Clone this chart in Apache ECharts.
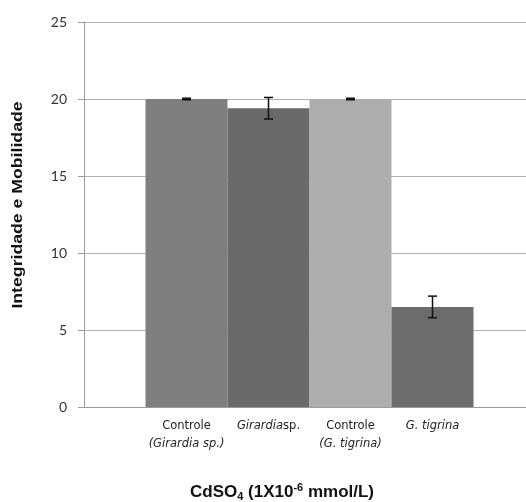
<!DOCTYPE html>
<html>
<head>
<meta charset="utf-8">
<script src="https://cdn.jsdelivr.net/npm/echarts@6/dist/echarts.min.js"></script>
<style>
  html, body { margin: 0; padding: 0; background: #fff; }
  #chart { width: 526px; height: 502px; }
</style>
</head>
<body>
<div id="chart"></div>
<script>
// dados
var categories = ['Controle\n(Girardia sp.)', 'Girardia sp.', 'Controle\n(G. tigrina)', 'G. tigrina'];
var values = [20, 19.4, 20, 6.5];
var errors = [0.05, 0.7, 0.05, 0.7];
var barColors = ['#7f7f7f', '#6a6a6a', '#adadad', '#6c6c6c'];
var yTicks = [0, 5, 10, 15, 20, 25];

var myChart = echarts.init(document.getElementById('chart'));

// rótulos com nomes de gênero em itálico
function labelFormatter(val) {
    return val.split('\n').map(function (line) {
        if (line.indexOf('Controle') === 0) return '{n|' + line + '}';
        if (line === 'Girardia sp.') return '{i|Girardia}{n|sp.}';
        return '{i|' + line + '}';
    }).join('\n');
}

var errorData = values.map(function (v, i) {
    return [i, v - errors[i], v + errors[i]];
});

var labelFont = 'DejaVu Sans';

var option = {
    animation: false,
    grid: [
        { left: 84, right: -10, top: 22, bottom: 95 },
        { left: 145.5, right: 52.5, top: 22, bottom: 95 }
    ],
    xAxis: [
        {
            gridIndex: 0,
            type: 'value',
            min: 0,
            max: 1,
            axisLabel: { show: false },
            axisTick: { show: false },
            splitLine: { show: false },
            axisLine: { show: true, lineStyle: { color: '#9a9a9a', width: 1 } }
        },
        {
            gridIndex: 1,
            type: 'category',
            data: categories,
            axisLine: { show: false },
            axisTick: { show: false },
            axisLabel: {
                interval: 0,
                margin: 10,
                formatter: labelFormatter,
                rich: {
                    n: { fontFamily: labelFont, fontSize: 11.5, color: '#222', lineHeight: 18 },
                    i: { fontFamily: labelFont, fontSize: 11.5, fontStyle: 'italic', color: '#222', lineHeight: 18 }
                }
            }
        }
    ],
    yAxis: [
        {
            gridIndex: 0,
            type: 'value',
            min: 0,
            max: 25,
            interval: 5,
            axisLine: { show: true, lineStyle: { color: '#9a9a9a', width: 1 } },
            axisTick: { show: true, inside: false, length: 6, lineStyle: { color: '#9a9a9a' } },
            splitLine: { show: true, lineStyle: { color: '#b3b3b3', width: 1 } },
            axisLabel: {
                margin: 17,
                fontFamily: 'Lato',
                fontSize: 14,
                color: '#333',
                formatter: function (v) { return yTicks.indexOf(v) >= 0 ? String(v) : ''; }
            }
        },
        {
            gridIndex: 1,
            type: 'value',
            min: 0,
            max: 25,
            show: false
        }
    ],
    graphic: [
        {
            type: 'text',
            x: 18,
            y: 205,
            rotation: Math.PI / 2,
            scaleX: 1.14,
            style: {
                text: 'Integridade e Mobilidade',
                fontFamily: 'Liberation Sans',
                fontWeight: 'bold',
                fontSize: 15.5,
                fill: '#111',
                align: 'center',
                verticalAlign: 'middle'
            }
        },
        {
            type: 'text',
            x: 282,
            y: 492,
            style: {
                text: '{b|CdSO}{s|4}{b| (1X10}{p|-6}{b| mmol/L)}',
                align: 'center',
                verticalAlign: 'middle',
                rich: {
                    b: { fontFamily: 'Liberation Sans', fontWeight: 'bold', fontSize: 17, fill: '#111', lineHeight: 20 },
                    s: { fontFamily: 'Liberation Sans', fontWeight: 'bold', fontSize: 11, fill: '#111', lineHeight: 20, verticalAlign: 'bottom', padding: [8, 0, 0, 0] },
                    p: { fontFamily: 'Liberation Sans', fontWeight: 'bold', fontSize: 11, fill: '#111', lineHeight: 20, verticalAlign: 'top', padding: [0, 0, 8, 0] }
                }
            }
        }
    ],
    series: [
        {
            type: 'bar',
            xAxisIndex: 1,
            yAxisIndex: 1,
            barWidth: '100%',
            barCategoryGap: 0,
            data: values.map(function (v, i) {
                return { value: v, itemStyle: { color: barColors[i] } };
            })
        },
        {
            type: 'custom',
            xAxisIndex: 1,
            yAxisIndex: 1,
            z: 10,
            data: errorData,
            renderItem: function (params, api) {
                var x = api.value(0);
                var lo = api.coord([x, api.value(1)]);
                var hi = api.coord([x, api.value(2)]);
                var cap = 4.5;
                var st = { stroke: '#111', lineWidth: 1.5 };
                return {
                    type: 'group',
                    children: [
                        { type: 'line', shape: { x1: hi[0], y1: hi[1], x2: lo[0], y2: lo[1] }, style: st },
                        { type: 'line', shape: { x1: hi[0] - cap, y1: hi[1], x2: hi[0] + cap, y2: hi[1] }, style: st },
                        { type: 'line', shape: { x1: lo[0] - cap, y1: lo[1], x2: lo[0] + cap, y2: lo[1] }, style: st }
                    ]
                };
            }
        }
    ]
};

myChart.setOption(option);
window.addEventListener('resize', function () { myChart.resize(); });
</script>
</body>
</html>
